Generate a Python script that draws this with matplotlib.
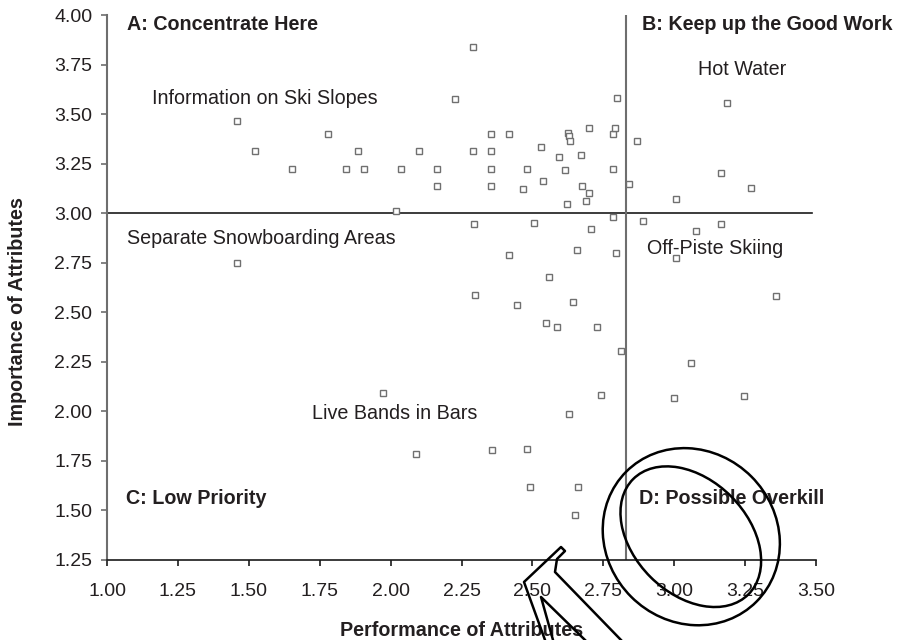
import matplotlib
matplotlib.use("Agg")
import matplotlib.pyplot as plt
from matplotlib.patches import Ellipse
from matplotlib.lines import Line2D

plt.rcParams['font.family'] = ['Liberation Sans', 'DejaVu Sans']

# ---- data ----
performance = [1.458, 1.523, 1.651, 1.779, 1.842, 1.885, 1.906, 2.035, 2.020, 2.099,
               2.164, 2.164, 2.227, 2.290, 2.290, 2.355, 2.355, 2.355, 2.355, 2.419,
               2.468, 2.482, 2.529, 2.538, 2.595, 2.615, 2.627, 2.630, 2.631, 2.623,
               2.672, 2.674, 2.690, 2.700, 2.698, 2.785, 2.790, 2.785, 2.799, 2.840,
               2.868, 3.005, 3.164, 3.185, 3.270,
               1.458, 2.293, 2.506, 2.708, 2.785, 2.890, 3.077, 3.166, 2.419, 2.656,
               2.794, 3.007, 2.557, 2.298, 2.444, 2.642, 3.359, 2.548, 2.586, 2.728,
               2.812, 3.059, 1.972, 2.742, 2.999, 3.247, 2.629, 2.091, 2.359, 2.481,
               2.493, 2.662, 2.649]
importance = [3.467, 3.312, 3.225, 3.400, 3.225, 3.312, 3.225, 3.225, 3.013, 3.312,
              3.225, 3.137, 3.576, 3.838, 3.312, 3.400, 3.312, 3.225, 3.137, 3.400,
              3.121, 3.225, 3.335, 3.162, 3.285, 3.218, 3.405, 3.390, 3.363, 3.044,
              3.293, 3.136, 3.060, 3.100, 3.432, 3.400, 3.432, 3.225, 3.581, 3.145,
              3.363, 3.073, 3.202, 3.555, 3.125,
              2.749, 2.947, 2.949, 2.921, 2.981, 2.962, 2.911, 2.947, 2.788, 2.812,
              2.797, 2.773, 2.676, 2.587, 2.539, 2.552, 2.580, 2.448, 2.426, 2.427,
              2.303, 2.242, 2.095, 2.081, 2.068, 2.077, 1.986, 1.786, 1.805, 1.810,
              1.616, 1.619, 1.476]

perf_cut = 2.83      # vertical divider (mean performance)
imp_cut = 3.00       # horizontal divider

x_ticks = [1.00, 1.25, 1.50, 1.75, 2.00, 2.25, 2.50, 2.75, 3.00, 3.25, 3.50]
y_ticks = [1.25, 1.50, 1.75, 2.00, 2.25, 2.50, 2.75, 3.00, 3.25, 3.50, 3.75, 4.00]

quadrant_labels = ["A: Concentrate Here", "B: Keep up the Good Work",
                   "C: Low Priority", "D: Possible Overkill"]
quadrant_pos = [(1.07, 3.95), (2.885, 3.95), (1.067, 1.562), (2.877, 1.558)]

attr_labels = ["Information on Ski Slopes", "Separate Snowboarding Areas",
               "Hot Water", "Off-Piste Skiing", "Live Bands in Bars"]
attr_pos = [(1.555, 3.579), (1.544, 2.871), (3.241, 3.725), (3.144, 2.824), (2.0155, 1.989)]

TXT = '#231f20'

fig = plt.figure(figsize=(8.98, 6.40), dpi=100)
ax = fig.add_axes([107/898, 80/640, (816-107)/898, (560-15)/640])

ax.plot(performance, importance, linestyle='none', marker='s', markersize=4.6,
        markerfacecolor='white', markeredgecolor='#707070', markeredgewidth=1.0,
        zorder=3)

ax.plot([1.0, 3.485], [imp_cut, imp_cut], color='#1a1a1a', lw=1.2, zorder=2)
ax.plot([perf_cut, perf_cut], [1.25, 4.0], color='#6e6e6e', lw=1.5, zorder=2)

ax.set_xlim(1.0, 3.5)
ax.set_ylim(1.25, 4.0)
ax.set_xticks(x_ticks)
ax.set_yticks(y_ticks)
ax.set_xticklabels([f"{v:.2f}" for v in x_ticks])
ax.set_yticklabels([f"{v:.2f}" for v in y_ticks])

for s in ['top', 'right']:
    ax.spines[s].set_visible(False)
ax.spines['left'].set_color('#6e6e6e')
ax.spines['left'].set_linewidth(1.5)
ax.spines['bottom'].set_color('#1a1a1a')
ax.spines['bottom'].set_linewidth(1.2)
ax.tick_params(axis='y', direction='out', length=4.5, width=1.2, color='#6e6e6e',
               labelsize=14, labelcolor=TXT, pad=6)
ax.tick_params(axis='x', direction='out', length=4.5, width=1.2, color='#1a1a1a',
               labelsize=14, labelcolor=TXT, pad=12)

for lab, (x, y) in zip(quadrant_labels, quadrant_pos):
    ax.text(x, y, lab, ha='left', va='center', fontsize=14.2, fontweight='bold',
            color=TXT, clip_on=False)
for lab, (x, y) in zip(attr_labels, attr_pos):
    ax.text(x, y, lab, ha='center', va='center', fontsize=14.2, color=TXT)

fig.text(18/898, (640-312)/640, "Importance of Attributes", rotation=90,
         ha='center', va='center', fontsize=14.2, fontweight='bold', color=TXT)
fig.text(461.5/898, (640-630)/640, "Performance of Attributes",
         ha='center', va='center', fontsize=14.2, fontweight='bold', color=TXT)

# ---- hand-drawn overlay (ellipses and arrow outline), in figure inches ----
tr = fig.dpi_scale_trans
fig.patches.append(Ellipse((6.913, 1.033), 1.84, 1.70, angle=-45, fill=False,
                           edgecolor='black', lw=1.8, transform=tr, zorder=10))
fig.patches.append(Ellipse((6.908, 1.033), 1.63, 1.14, angle=-45, fill=False,
                           edgecolor='black', lw=1.8, transform=tr, zorder=10))

arrow_outline = [(545, 640), (524, 582), (561, 547), (565, 551), (557, 559),
                 (555, 572), (621, 640)]
arrow_inner = [(553, 640), (541, 597), (585, 640)]
for poly in (arrow_outline, arrow_inner):
    xs = [p[0] / 100 for p in poly]
    ys = [(640 - p[1]) / 100 for p in poly]
    fig.lines.append(Line2D(xs, ys, color='black', lw=1.8, transform=tr, zorder=10))

fig.savefig("out.png", dpi=100)
